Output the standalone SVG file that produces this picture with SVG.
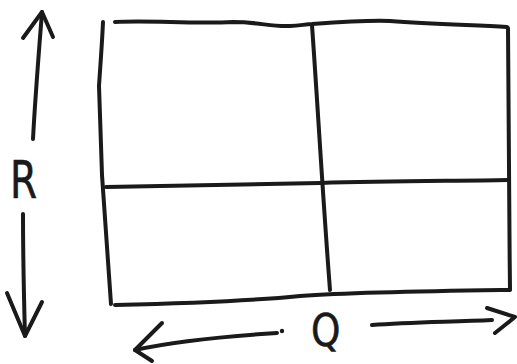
<svg xmlns="http://www.w3.org/2000/svg" width="517" height="364" viewBox="0 0 517 364">
<style>
.ln{fill:none;stroke:#1a1a1a;stroke-width:4;stroke-linecap:round;stroke-linejoin:round}
.lb{font-family:"DejaVu Sans","Liberation Sans",sans-serif;fill:#1a1a1a;stroke:#1a1a1a;stroke-width:0.6}
</style>
<rect width="517" height="364" fill="#fff"/>
<g id="grid">
<path class="ln" d="M103,22 C102,45 100,70 99,86 C100,120 101,150 102,175 C105,220 108,260 111,304"/>
<path class="ln" d="M115,22 C150,20 190,24 233,22 C260,22 270,27 290,26 C300,26 305,24 312,24 C340,22 370,20 390,21 C430,24 470,25 507,27"/>
<path class="ln" d="M312,25 C318,110 323,200 330,290"/>
<path class="ln" d="M508,28 C508,110 509,200 510,289"/>
<path class="ln" d="M106,187 C180,186 250,184 320,183 C390,181 450,181 508,180"/>
<path class="ln" d="M115,305 C200,303 260,300 300,296 C360,292 440,291 510,290"/>
</g>
<g id="connectors">
<path class="ln" d="M33,139 C35,100 39,50 42,12"/>
<path class="ln" d="M23,38 L42,12 L53,37"/>
<path class="ln" d="M23,214 C23,260 24,300 25,336"/>
<path class="ln" d="M7,293 L25,336 L42,302"/>
<path class="ln" d="M277,333 C230,336 180,340 135,350"/>
<path class="ln" d="M162,323 L135,350 L152,361"/>
<circle cx="282" cy="331" r="2.2" fill="#1a1a1a"/>
<path class="ln" d="M372,325 C410,322 450,322 492,320"/>
<path class="ln" d="M487,308 L515,317 L495,333"/>
</g>
<g id="labels">
<text class="lb" x="0" y="0" font-size="52" transform="translate(10,198) scale(0.75,1)">R</text>
<text class="lb" x="0" y="0" font-size="44" transform="translate(311,346) scale(0.85,1)">Q</text>
</g>
</svg>
